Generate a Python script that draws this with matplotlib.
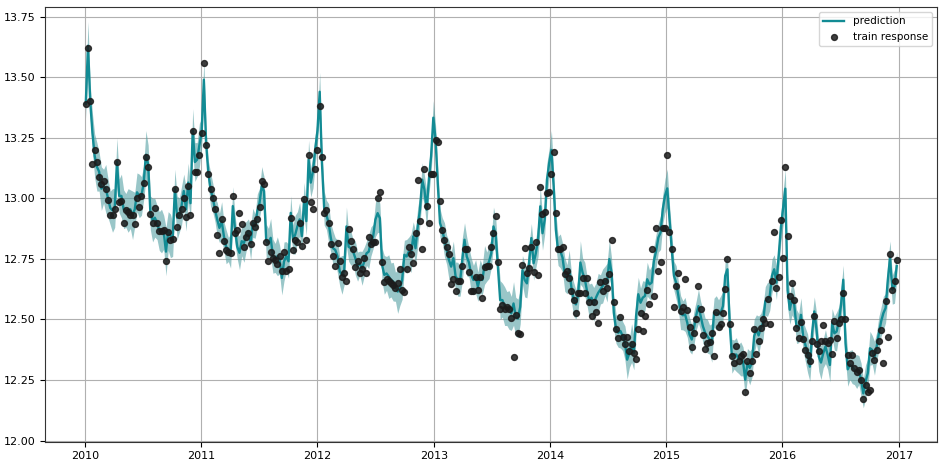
import numpy as np
import pandas as pd
import matplotlib
matplotlib.use("Agg")
import matplotlib.pyplot as plt

# weekly dates, first week of 2010 to last week of 2016
dates = pd.date_range("2010-01-03", periods=365, freq="7D")

# model prediction, one row per year
pred_2010 = [13.39, 13.63, 13.40, 13.27, 13.175, 13.13, 13.11, 13.04, 13.05, 13.04, 13.00, 12.96, 12.95,
             12.96, 13.15, 13.01, 13.01, 12.955, 12.95, 12.95, 12.955, 12.93, 12.955, 13.025, 13.01, 13.01,
             13.065, 13.18, 13.14, 12.94, 12.91, 12.92, 12.90, 12.865, 12.865, 12.86, 12.78, 12.865, 12.845,
             12.83, 13.04, 12.92, 12.93, 12.97, 13.03, 12.955, 13.065, 12.98, 13.28, 13.15, 13.16, 13.22]
pred_2011 = [13.27, 13.49, 13.23, 13.106, 13.037, 13.003, 12.954, 12.913, 12.878, 12.906, 12.844, 12.80, 12.789,
             12.782, 12.968, 12.872, 12.80, 12.775, 12.823, 12.816, 12.844, 12.865, 12.816, 12.899, 12.885, 12.948,
             12.982, 13.051, 13.03, 12.823, 12.816, 12.837, 12.761, 12.754, 12.761, 12.747, 12.671, 12.74, 12.761,
             12.74, 12.94, 12.83, 12.85, 12.885, 12.913, 12.844, 12.996, 12.906, 13.16, 13.065, 13.113, 13.203]
pred_2012 = [13.28, 13.44, 13.146, 12.96, 12.932, 12.898, 12.836, 12.794, 12.787, 12.76, 12.698, 12.684, 12.704,
             12.884, 12.80, 12.794, 12.78, 12.753, 12.718, 12.732, 12.711, 12.739, 12.773, 12.78, 12.822, 12.843,
             12.912, 12.939, 12.918, 12.725, 12.684, 12.69, 12.677, 12.663, 12.656, 12.635, 12.615, 12.628, 12.663,
             12.767, 12.76, 12.78, 12.773, 12.843, 12.794, 12.884, 12.953, 13.077, 13.036, 12.953, 13.077, 13.174]
pred_2013 = [13.333, 13.243, 13.06, 12.898, 12.87, 12.829, 12.787, 12.746, 12.718, 12.753, 12.677, 12.666, 12.656,
             12.746, 12.829, 12.76, 12.735, 12.684, 12.663, 12.677, 12.635, 12.677, 12.663, 12.725, 12.718, 12.739,
             12.773, 12.884, 12.85, 12.718, 12.58, 12.58, 12.555, 12.545, 12.539, 12.525, 12.566, 12.511, 12.504,
             12.552, 12.704, 12.663, 12.649, 12.739, 12.836, 12.732, 12.773, 12.829, 12.967, 12.856, 12.912, 13.077]
pred_2014 = [13.146, 13.20, 13.05, 12.87, 12.783, 12.783, 12.755, 12.686, 12.666, 12.707, 12.631, 12.583, 12.562,
             12.604, 12.735, 12.693, 12.666, 12.617, 12.576, 12.59, 12.562, 12.59, 12.61, 12.624, 12.638, 12.659,
             12.652, 12.749, 12.693, 12.528, 12.461, 12.445, 12.452, 12.431, 12.403, 12.334, 12.362, 12.403, 12.362,
             12.514, 12.604, 12.569, 12.59, 12.597, 12.666, 12.645, 12.652, 12.742, 12.783, 12.838, 12.859, 12.956]
pred_2015 = [13.011, 13.041, 12.914, 12.79, 12.68, 12.652, 12.597, 12.528, 12.517, 12.521, 12.486, 12.438, 12.417,
             12.465, 12.517, 12.555, 12.514, 12.472, 12.445, 12.431, 12.417, 12.403, 12.528, 12.528, 12.521, 12.528,
             12.555, 12.68, 12.707, 12.486, 12.348, 12.355, 12.355, 12.337, 12.337, 12.327, 12.251, 12.32, 12.30,
             12.32, 12.431, 12.459, 12.434, 12.465, 12.486, 12.576, 12.583, 12.597, 12.68, 12.707, 12.652, 12.762]
pred_2016 = [12.88, 12.96, 13.04, 12.62, 12.54, 12.588, 12.56, 12.471, 12.464, 12.519, 12.43, 12.395, 12.36,
             12.305, 12.443, 12.533, 12.457, 12.347, 12.322, 12.36, 12.388, 12.354, 12.312, 12.485, 12.443, 12.45,
             12.492, 12.56, 12.664, 12.402, 12.294, 12.312, 12.305, 12.291, 12.285, 12.291, 12.25, 12.195, 12.243,
             12.278, 12.381, 12.374, 12.34, 12.388, 12.443, 12.492, 12.526, 12.547, 12.664, 12.754, 12.623, 12.637,
             12.72]

# observed training response
resp_2010 = [13.39, 13.62, 13.40, 13.14, 13.20, 13.15, 13.09, 13.06, 13.07, 13.04, 12.995, 12.93, 12.93,
             12.955, 13.15, 12.985, 12.99, 12.90, 12.95, 12.945, 12.93, 12.93, 12.895, 13.0, 12.965, 13.01,
             13.065, 13.17, 13.13, 12.935, 12.90, 12.96, 12.90, 12.865, 12.865, 12.87, 12.74, 12.86, 12.83,
             12.833, 13.04, 12.88, 12.93, 12.955, 13.0, 12.925, 13.05, 12.93, 13.28, 13.11, 13.11, 13.18]
resp_2011 = [13.27, 13.56, 13.22, 13.10, 13.04, 13.0, 12.957, 12.85, 12.775, 12.915, 12.825, 12.785, 12.78,
             12.775, 13.01, 12.855, 12.87, 12.94, 12.896, 12.80, 12.84, 12.855, 12.81, 12.90, 12.88, 12.915,
             12.964, 13.07, 13.06, 12.82, 12.743, 12.78, 12.755, 12.747, 12.73, 12.76, 12.70, 12.78, 12.70,
             12.71, 12.917, 12.787, 12.83, 12.82, 12.90, 12.805, 12.996, 12.83, 13.18, 12.986, 12.954, 13.12]
resp_2012 = [13.20, 13.38, 13.17, 12.94, 12.95, 12.90, 12.81, 12.76, 12.72, 12.815, 12.74, 12.674, 12.69,
             12.66, 12.874, 12.825, 12.79, 12.715, 12.74, 12.69, 12.71, 12.753, 12.69, 12.84, 12.81, 12.82,
             12.82, 13.0, 13.026, 12.736, 12.653, 12.666, 12.66, 12.65, 12.644, 12.63, 12.65, 12.707, 12.62,
             12.613, 12.707, 12.80, 12.77, 12.735, 12.856, 13.077, 12.907, 12.79, 13.12, 12.97, 12.90, 13.10]
resp_2013 = [13.10, 13.24, 13.233, 12.99, 12.87, 12.83, 12.80, 12.77, 12.645, 12.666, 12.616, 12.66, 12.66,
             12.72, 12.79, 12.79, 12.695, 12.616, 12.616, 12.674, 12.62, 12.674, 12.59, 12.717, 12.72, 12.72,
             12.80, 12.856, 12.926, 12.736, 12.545, 12.56, 12.545, 12.55, 12.545, 12.504, 12.343, 12.518, 12.446,
             12.438, 12.724, 12.795, 12.69, 12.713, 12.80, 12.697, 12.818, 12.683, 13.047, 12.935, 12.945, 13.024]
resp_2014 = [13.025, 13.10, 13.19, 12.94, 12.79, 12.79, 12.80, 12.686, 12.70, 12.673, 12.617, 12.58, 12.525,
             12.61, 12.61, 12.673, 12.61, 12.673, 12.57, 12.514, 12.57, 12.53, 12.486, 12.655, 12.617, 12.66,
             12.63, 12.686, 12.827, 12.57, 12.46, 12.424, 12.51, 12.427, 12.40, 12.428, 12.369, 12.40, 12.36,
             12.338, 12.46, 12.525, 12.452, 12.514, 12.62, 12.565, 12.79, 12.597, 12.876, 12.70, 12.737, 12.876]
resp_2015 = [12.877, 13.18, 12.86, 12.79, 12.553, 12.64, 12.69, 12.535, 12.55, 12.666, 12.537, 12.47, 12.387,
             12.445, 12.50, 12.64, 12.545, 12.434, 12.376, 12.403, 12.406, 12.445, 12.35, 12.53, 12.468, 12.483,
             12.528, 12.624, 12.751, 12.483, 12.348, 12.32, 12.39, 12.33, 12.348, 12.359, 12.20, 12.33, 12.279,
             12.33, 12.459, 12.359, 12.41, 12.466, 12.50, 12.486, 12.583, 12.48, 12.66, 12.863, 12.63, 12.677]
resp_2016 = [12.91, 12.754, 13.128, 12.844, 12.595, 12.65, 12.58, 12.464, 12.423, 12.49, 12.42, 12.372, 12.352,
             12.33, 12.41, 12.513, 12.40, 12.37, 12.41, 12.477, 12.41, 12.402, 12.416, 12.357, 12.492, 12.423,
             12.485, 12.50, 12.61, 12.50, 12.354, 12.32, 12.354, 12.30, 12.285, 12.29, 12.25, 12.17, 12.23,
             12.199, 12.21, 12.36, 12.333, 12.374, 12.41, 12.457, 12.319, 12.575, 12.427, 12.772, 12.62, 12.657,
             12.747]

# half width of the shaded interval
band_2010 = [0.06, 0.10, 0.07, 0.08, 0.09, 0.10, 0.08, 0.09, 0.07, 0.10, 0.08, 0.07, 0.09,
             0.08, 0.10, 0.07, 0.09, 0.08, 0.07, 0.09, 0.08, 0.10, 0.07, 0.08, 0.09, 0.08,
             0.07, 0.10, 0.08, 0.07, 0.09, 0.08, 0.07, 0.08, 0.09, 0.07, 0.10, 0.08, 0.09,
             0.07, 0.08, 0.09, 0.07, 0.08, 0.07, 0.09, 0.08, 0.07, 0.09, 0.08, 0.07, 0.09]
band_2011 = [0.06, 0.08, 0.06, 0.05, 0.07, 0.06, 0.05, 0.07, 0.06, 0.08, 0.06, 0.07, 0.05,
             0.07, 0.08, 0.06, 0.05, 0.07, 0.06, 0.08, 0.06, 0.05, 0.07, 0.06, 0.05, 0.07,
             0.06, 0.08, 0.06, 0.07, 0.06, 0.08, 0.07, 0.06, 0.08, 0.06, 0.07, 0.08, 0.06,
             0.07, 0.07, 0.06, 0.08, 0.06, 0.07, 0.06, 0.07, 0.06, 0.08, 0.06, 0.07, 0.06]
band_2012 = [0.05, 0.08, 0.06, 0.07, 0.06, 0.08, 0.06, 0.07, 0.05, 0.07, 0.06, 0.08, 0.06,
             0.08, 0.06, 0.07, 0.05, 0.07, 0.06, 0.05, 0.07, 0.06, 0.05, 0.07, 0.06, 0.05,
             0.07, 0.08, 0.06, 0.07, 0.08, 0.07, 0.09, 0.07, 0.08, 0.06, 0.09, 0.07, 0.08,
             0.06, 0.07, 0.06, 0.08, 0.06, 0.07, 0.08, 0.06, 0.07, 0.06, 0.08, 0.06, 0.07]
band_2013 = [0.07, 0.06, 0.07, 0.06, 0.05, 0.07, 0.06, 0.08, 0.06, 0.07, 0.06, 0.07, 0.06,
             0.09, 0.07, 0.08, 0.06, 0.07, 0.06, 0.07, 0.06, 0.07, 0.06, 0.08, 0.06, 0.07,
             0.06, 0.08, 0.07, 0.06, 0.08, 0.07, 0.08, 0.07, 0.08, 0.07, 0.09, 0.08, 0.08,
             0.07, 0.06, 0.07, 0.06, 0.07, 0.06, 0.07, 0.06, 0.07, 0.08, 0.07, 0.06, 0.07]
band_2014 = [0.06, 0.08, 0.06, 0.07, 0.06, 0.07, 0.06, 0.07, 0.06, 0.08, 0.06, 0.07, 0.06,
             0.07, 0.09, 0.06, 0.07, 0.06, 0.07, 0.06, 0.07, 0.06, 0.08, 0.06, 0.07, 0.06,
             0.08, 0.08, 0.06, 0.07, 0.06, 0.06, 0.07, 0.06, 0.07, 0.08, 0.06, 0.08, 0.07,
             0.08, 0.07, 0.06, 0.07, 0.06, 0.07, 0.06, 0.07, 0.06, 0.07, 0.06, 0.07, 0.06]
band_2015 = [0.07, 0.08, 0.06, 0.07, 0.06, 0.07, 0.06, 0.07, 0.06, 0.07, 0.06, 0.07, 0.06,
             0.07, 0.06, 0.07, 0.06, 0.07, 0.06, 0.07, 0.06, 0.08, 0.06, 0.07, 0.06, 0.07,
             0.06, 0.06, 0.06, 0.07, 0.07, 0.06, 0.07, 0.06, 0.07, 0.06, 0.07, 0.06, 0.07,
             0.06, 0.07, 0.06, 0.08, 0.06, 0.07, 0.06, 0.07, 0.06, 0.07, 0.06, 0.07, 0.06]
band_2016 = [0.06, 0.07, 0.08, 0.07, 0.06, 0.07, 0.06, 0.07, 0.06, 0.07, 0.06, 0.07, 0.08,
             0.06, 0.07, 0.06, 0.07, 0.06, 0.07, 0.06, 0.07, 0.06, 0.07, 0.06, 0.07, 0.08,
             0.06, 0.07, 0.06, 0.07, 0.07, 0.06, 0.07, 0.06, 0.07, 0.06, 0.07, 0.06, 0.07,
             0.06, 0.07, 0.06, 0.07, 0.06, 0.07, 0.06, 0.07, 0.06, 0.08, 0.07, 0.06, 0.07,
             0.06]

pred = np.array(pred_2010 + pred_2011 + pred_2012 + pred_2013 + pred_2014 + pred_2015 + pred_2016)
resp = np.array(resp_2010 + resp_2011 + resp_2012 + resp_2013 + resp_2014 + resp_2015 + resp_2016)
band = np.array(band_2010 + band_2011 + band_2012 + band_2013 + band_2014 + band_2015 + band_2016)

line_color = "#128b94"

plt.rcParams["font.size"] = 8
fig = plt.figure(figsize=(9.42, 4.66), dpi=100)
ax = fig.add_axes([0.048, 0.052, 0.947, 0.933])

ax.fill_between(dates, pred - band, pred + band, color="#55a1a4", alpha=0.6, linewidth=0)
ax.plot(dates, pred, color=line_color, linewidth=1.7, label="prediction", zorder=3)
ax.scatter(dates, resp, s=18, color="#1c1c1c", alpha=0.85, label="train response", zorder=4)

ax.set_ylim(11.995, 13.79)
ax.set_yticks([12.00, 12.25, 12.50, 12.75, 13.00, 13.25, 13.50, 13.75])
ax.yaxis.set_major_formatter(matplotlib.ticker.FormatStrFormatter("%.2f"))
ax.grid(True, color="#b0b0b0", linewidth=0.8)
ax.set_axisbelow(True)
for sp in ax.spines.values():
    sp.set_color("#333333")
    sp.set_linewidth(0.8)

ax.legend(loc="upper right", fontsize=7.5)
fig.savefig("out.png", dpi=100)
